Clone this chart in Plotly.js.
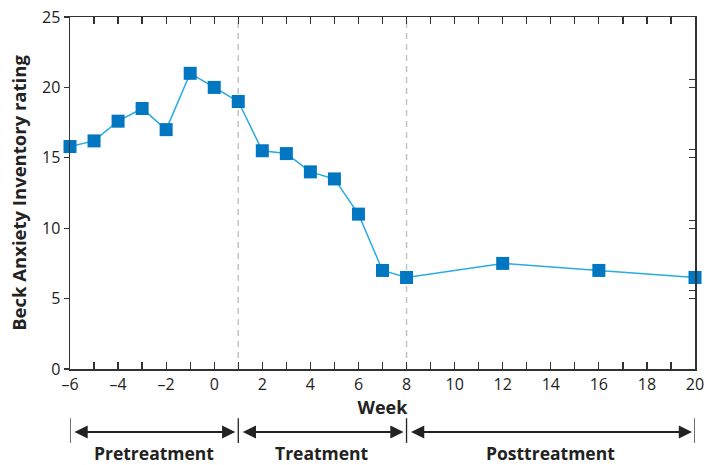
<!DOCTYPE html>
<html>
<head>
<meta charset="utf-8">
<script src="https://cdn.plot.ly/plotly-3.0.1.min.js"></script>
<style>html,body{margin:0;padding:0;background:#fff;}#chart{width:705px;height:465px;}</style>
</head>
<body>
<div id="chart"></div>
<script>
// Data
var weeks = [-6, -5, -4, -3, -2, -1, 0, 1, 2, 3, 4, 5, 6, 7, 8, 12, 16, 20];
var baiRating = [15.8, 16.2, 17.6, 18.5, 17.0, 21.0, 20.0, 19.0, 15.5, 15.3, 14.0, 13.5, 11.0, 7.0, 6.5, 7.5, 7.0, 6.5];
var phaseNames = ["Pretreatment", "Treatment", "Posttreatment"];
var phaseBounds = [-6, 1, 8, 20];
var xTickVals = [];
var xTickText = [];
for (var t = -6; t <= 20; t++) { xTickVals.push(t); xTickText.push(t % 2 === 0 ? (t < 0 ? "\u2013" + Math.abs(t) : String(t)) : ""); }
var yTickVals = [0, 5, 10, 15, 20, 25];
var rightTickVals = [5, 5.57, 10, 10.57, 15, 15.57, 20, 20.57];

var fontFam = "Open Sans, sans-serif";
var axisColor = "#333333";
var textColor = "#222222";

var trace = {
  x: weeks, y: baiRating, type: "scatter", mode: "lines+markers",
  line: {color: "#29abe2", width: 1.5},
  marker: {symbol: "square", size: 13, color: "#0077c0"},
  cliponaxis: false, showlegend: false, hoverinfo: "skip"
};
var dummyRight = {x: [-6], y: [0], yaxis: "y2", mode: "markers", marker: {opacity: 0}, showlegend: false, hoverinfo: "skip"};

var shapes = [];
for (var i = 1; i < phaseBounds.length - 1; i++) {
  shapes.push({type: "line", xref: "x", yref: "y", x0: phaseBounds[i], x1: phaseBounds[i], y0: 0, y1: 25,
    line: {color: "#c4c4c4", width: 1.5, dash: "6px,5px"}, layer: "below"});
}
for (var j = 0; j < phaseBounds.length; j++) {
  shapes.push({type: "line", xref: "x", yref: "paper", x0: phaseBounds[j], x1: phaseBounds[j], y0: -0.14, y1: -0.21,
    line: {color: "#222", width: 1.3}});
}
var annotations = [];
for (var k = 0; k < phaseNames.length; k++) {
  annotations.push({xref: "x", yref: "paper", axref: "x", ayref: "pixel",
    x: phaseBounds[k + 1], y: -0.179, ax: phaseBounds[k], ay: 0,
    showarrow: true, arrowhead: 2, arrowside: "end+start", arrowsize: 1.2, arrowwidth: 2.2,
    arrowcolor: "#222", standoff: 3, startstandoff: 3, text: ""});
  annotations.push({xref: "x", yref: "paper", x: (phaseBounds[k] + phaseBounds[k + 1]) / 2, y: -0.238,
    yanchor: "middle", showarrow: false, text: phaseNames[k],
    font: {family: fontFam, size: 17.5, color: textColor, weight: "bold"}});
}

var layout = {
  width: 705, height: 465,
  margin: {l: 70, r: 10, t: 17, b: 96},
  paper_bgcolor: "#fff", plot_bgcolor: "#fff",
  font: {family: fontFam, color: textColor, size: 16},
  xaxis: {
    range: [-6, 20], tickmode: "array", tickvals: xTickVals, ticktext: xTickText,
    ticks: "inside", ticklen: 7, tickwidth: 1.3, tickcolor: axisColor,
    showline: true, linecolor: axisColor, linewidth: 1.5, mirror: "ticks",
    showgrid: false, zeroline: false, tickfont: {size: 16, color: textColor},
    title: {text: "Week", font: {size: 18, weight: "bold", color: textColor}, standoff: 7}
  },
  yaxis: {
    range: [0, 25], tickmode: "array", tickvals: yTickVals,
    ticks: "outside", ticklen: 5, tickwidth: 1.3, tickcolor: axisColor,
    showline: true, linecolor: axisColor, linewidth: 1.5, mirror: true,
    showgrid: false, zeroline: false, tickfont: {size: 16, color: textColor},
    title: {text: "Beck Anxiety Inventory rating", font: {size: 18.5, weight: "bold", color: textColor}, standoff: 10}
  },
  yaxis2: {
    range: [0, 25], overlaying: "y", side: "right", tickmode: "array", tickvals: rightTickVals,
    ticks: "inside", ticklen: 6, tickwidth: 1.3, tickcolor: axisColor, showticklabels: false,
    showline: false, showgrid: false, zeroline: false
  },
  shapes: shapes,
  annotations: annotations
};

Plotly.newPlot("chart", [trace, dummyRight], layout, {displayModeBar: false, staticPlot: true});
</script>
</body>
</html>
